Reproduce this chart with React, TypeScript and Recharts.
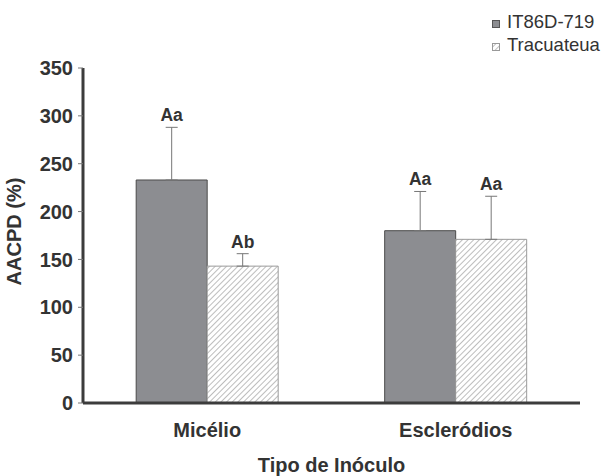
import {
  Bar,
  BarChart,
  ErrorBar,
  Label,
  LabelList,
  XAxis,
  YAxis,
} from "recharts";

const categories = ["Micélio", "Escleródios"];
const it86d = [233, 180];
const tracuateua = [143, 171];
const it86dErr = [55, 41];
const tracuateuaErr = [13, 45];
const it86dLetters = ["Aa", "Aa"];
const tracuateuaLetters = ["Ab", "Aa"];
const yTicks = [0, 50, 100, 150, 200, 250, 300, 350];

const FONT = "Liberation Sans, Arial, sans-serif";
const TEXT = "#333333";
const AXIS = "#3c3c3c";
const DARK = "#8c8d91";

const data = categories.map((name, i) => ({
  name,
  it86d: it86d[i],
  tracuateua: tracuateua[i],
  it86dErr: [0, it86dErr[i]],
  tracuateuaErr: [0, tracuateuaErr[i]],
}));

function letterLabel(errs: number[], letters: string[]) {
  return (props: any) => {
    const { x, y, width, height, index, value } = props;
    const perUnit = Number(height) / Number(value);
    const top = Number(y) - errs[index] * perUnit;
    return (
      <text
        x={Number(x) + Number(width) / 2}
        y={top - 6}
        textAnchor="middle"
        fontFamily={FONT}
        fontWeight="bold"
        fontSize={17.5}
        fill={TEXT}
      >
        {letters[index]}
      </text>
    );
  };
}

// legend drawn as an overlay so it doesn't eat into the plot area
function LegendBox() {
  const items = [
    { label: "IT86D-719", fill: DARK, stroke: "#555" },
    { label: "Tracuateua", fill: "url(#hatch)", stroke: "#999" },
  ];
  return (
    <svg
      width={120}
      height={60}
      style={{ position: "absolute", left: 488, top: 0 }}
    >
      {items.map((it, i) => (
        <g key={it.label}>
          <rect
            x={4.5}
            y={20.5 + i * 23}
            width={7}
            height={7}
            fill={it.fill}
            stroke={it.stroke}
          />
          <text
            x={19}
            y={28 + i * 23}
            fontFamily={FONT}
            fontSize={18.5}
            fill={TEXT}
          >
            {it.label}
          </text>
        </g>
      ))}
    </svg>
  );
}

const tickStyle = { fill: TEXT, fontSize: 20, fontWeight: "bold", fontFamily: FONT };

export default function App() {
  return (
    <div style={{ position: "absolute", left: 0, top: 0, width: 601, height: 476, background: "#fff" }}>
      <BarChart
        width={601}
        height={476}
        data={data}
        margin={{ top: 68, right: 21, bottom: 4, left: 0 }}
        barCategoryGap="21.4%"
        barGap={0}
      >
        <defs>
          <pattern
            id="hatch"
            patternUnits="userSpaceOnUse"
            width={4}
            height={4}
            patternTransform="rotate(45)"
          >
            <rect width={4} height={4} fill="#ffffff" />
            <line x1={0} y1={0} x2={0} y2={4} stroke="#bdbdbd" strokeWidth={2} />
          </pattern>
        </defs>
        <XAxis
          dataKey="name"
          height={69}
          tickLine={false}
          tickSize={6}
          axisLine={{ stroke: AXIS, strokeWidth: 3 }}
          tick={tickStyle}
          tickMargin={14}
        >
          <Label value="Tipo de Inóculo" position="insideBottom" offset={0} style={tickStyle} />
        </XAxis>
        <YAxis
          width={83}
          domain={[0, 350]}
          ticks={yTicks}
          interval={0}
          tickSize={5}
          tickMargin={5}
          tickLine={{ stroke: "#777" }}
          axisLine={{ stroke: AXIS, strokeWidth: 3 }}
          tick={tickStyle}
        >
          <Label
            value="AACPD (%)"
            angle={-90}
            position="insideLeft"
            offset={14}
            dy={-4}
            style={{ ...tickStyle, textAnchor: "middle" }}
          />
        </YAxis>
        <Bar dataKey="it86d" fill={DARK} stroke="#4a4a4a" strokeWidth={1} isAnimationActive={false}>
          <ErrorBar dataKey="it86dErr" width={6} stroke="#777" strokeWidth={1} direction="y" />
          <LabelList dataKey="it86d" content={letterLabel(it86dErr, it86dLetters)} />
        </Bar>
        <Bar dataKey="tracuateua" fill="url(#hatch)" stroke="#9a9a9a" strokeWidth={1} isAnimationActive={false}>
          <ErrorBar dataKey="tracuateuaErr" width={6} stroke="#777" strokeWidth={1} direction="y" />
          <LabelList dataKey="tracuateua" content={letterLabel(tracuateuaErr, tracuateuaLetters)} />
        </Bar>
      </BarChart>
      <LegendBox />
    </div>
  );
}
